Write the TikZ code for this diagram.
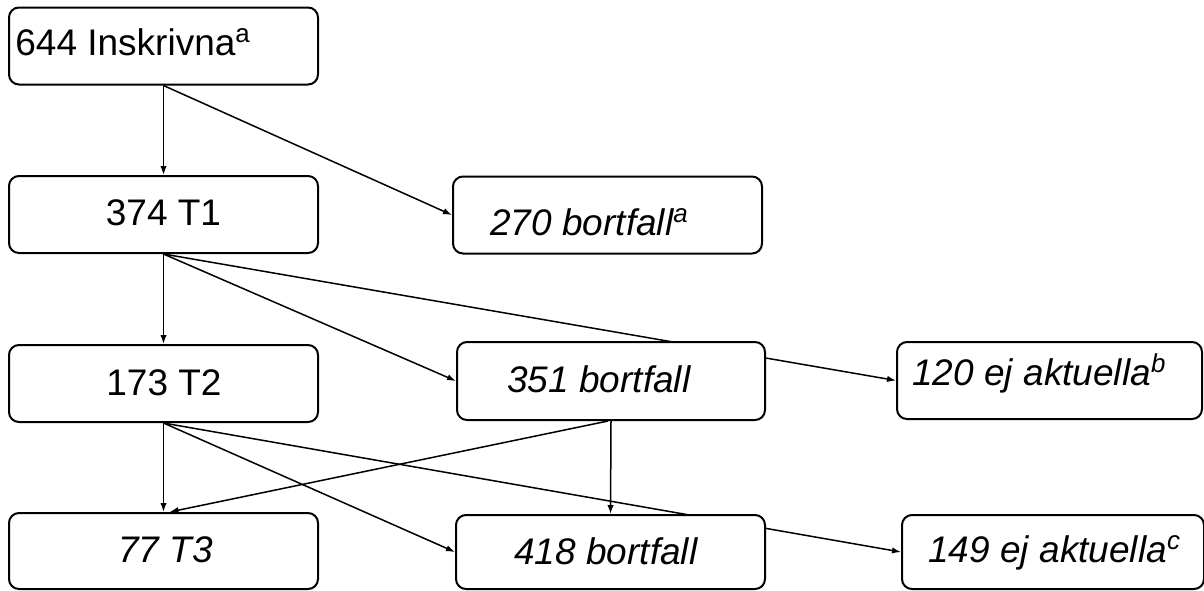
\documentclass[tikz,border=0pt]{standalone}
\usepackage{fontspec}
\setmainfont{Liberation Sans}
\usetikzlibrary{arrows.meta,calc}
\pgfdeclarelayer{bg}
\pgfsetlayers{bg,main}
\begin{document}
\begin{tikzpicture}[x=0.5pt,y=-0.5pt,
  box/.style={draw,line width=1pt,rounded corners=5pt,fill=white,inner sep=0pt,minimum width=154.5pt,minimum height=38.5pt},
  txt/.style={inner sep=0pt,font=\fontsize{18.5}{22}\selectfont},
  arr/.style={line width=0.75pt,-{Latex[length=4.5pt,width=3.2pt]}},
  ln/.style={line width=0.75pt}]
\useasboundingbox (0,0) rectangle (1204,590);
% boxes
\node[box] (ins) at (163.5,46) {};
\node[box] (t1) at (163.5,214.5) {};
\node[box] (b1) at (607.5,215) {};
\node[box] (t2) at (163.5,383.5) {};
\node[box,minimum width=154pt,minimum height=39pt] (b2) at (611,381) {};
\node[box,minimum width=152.5pt] (e1) at (1049.5,380.5) {};
\node[box,minimum height=38pt] (t3) at (163.5,551) {};
\node[box,minimum height=37pt] (b3) at (610.5,552) {};
\node[box,minimum width=151pt,minimum height=37pt] (e2) at (1053,552) {};
% texts
\node[txt,anchor=base west] (insT) at (15,55) {644 Inskrivna\textsuperscript{a}};
\node[txt,anchor=base] (t1T) at (163.5,225) {374 T1};
\node[txt,anchor=base west] (b1T) at (490,235) {\itshape 270 bortfall\textsuperscript{a}};
\node[txt,anchor=base] (t2T) at (164,395) {173 T2};
\node[txt,anchor=base west] (b2T) at (507,392) {\itshape 351 bortfall};
\node[txt,anchor=base west] (e1T) at (912,385) {\itshape 120 ej aktuella\textsuperscript{b}};
\node[txt,anchor=base west] (t3T) at (118,562) {\itshape 77 T3};
\node[txt,anchor=base west] (b3T) at (514,564) {\itshape 418 bortfall};
\node[txt,anchor=base west] (e2T) at (928,562) {\itshape 149 ej aktuella\textsuperscript{c}};
% connectors
\begin{pgfonlayer}{bg}
\draw[arr] (ins.south) -- (t1.north);
\draw[arr] (ins.south) -- (b1.west);
\draw[arr] (t1.south) -- (t2.north);
\draw[arr] (t1.south) -- (b2.west);
\draw[arr] (t1.south) -- (e1.west);
\draw[arr] (t2.south) -- (t3.north);
\draw[arr] (t2.south) -- (b3.west);
\draw[arr] (t2.south) -- (e2.west);
\draw[arr] (b2.south) -- (b3.north);
\draw[arr] ([xshift=-1.5pt]b2.south) -- ([xshift=3pt]t3.north);
\end{pgfonlayer}
\end{tikzpicture}
\end{document}
